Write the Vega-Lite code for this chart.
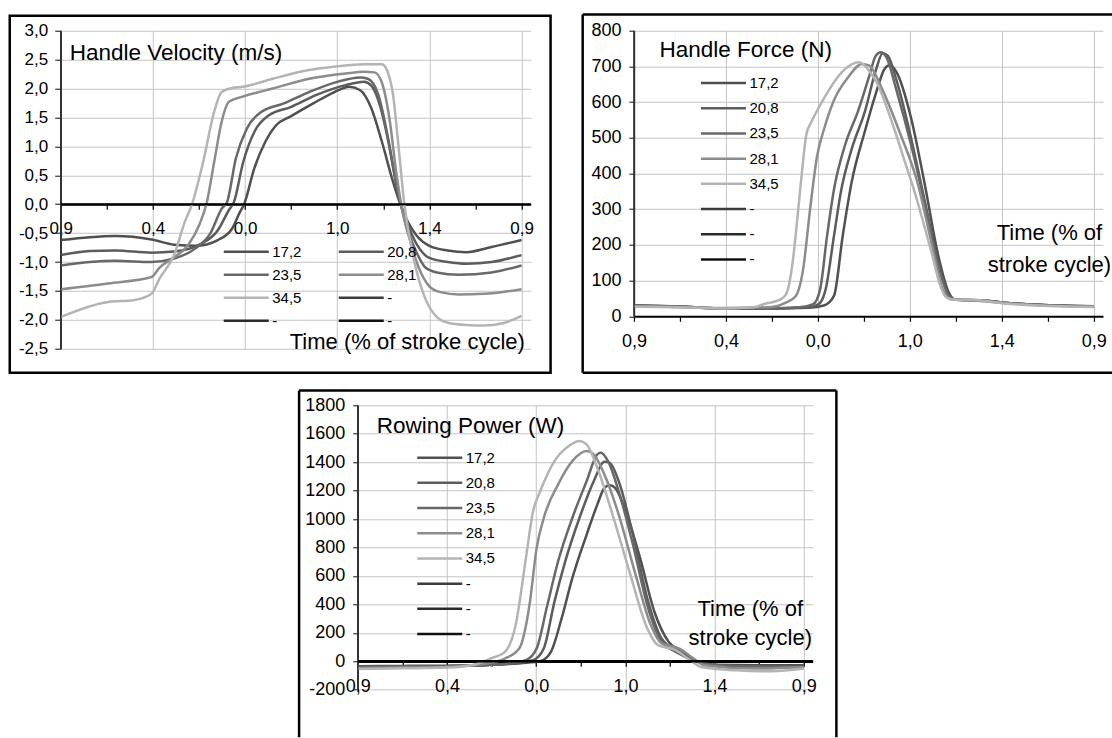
{
"$schema": "https://vega.github.io/schema/vega-lite/v6.json",
"background": "white",
"padding": {"left": 7.75, "top": 12.75, "right": 0, "bottom": 0},
"spacing": 14.5,
"config": {
  "view": {"stroke": null},
  "font": "Liberation Sans",
  "axis": {"labelFont": "Liberation Sans", "titleFont": "Liberation Sans", "labelColor": "#000", "titleColor": "#000", "titleFontWeight": "normal", "labelFlush": false, "labelOverlap": false, "labelBound": false, "gridColor": "#c4c4c4", "gridWidth": 1, "domain": true, "ticks": true, "tickWidth": 1.2, "tickSize": 5},
  "axisX": {"domainColor": "#000", "tickColor": "#000", "labelPadding": 11},
  "axisY": {"domainColor": "#333", "tickColor": "#333", "domainWidth": 1.5, "labelPadding": 7},
  "legend": {"labelFont": "Liberation Sans", "labelColor": "#000"}
},
"resolve": {"scale": {"color": "independent", "x": "independent", "y": "independent"}, "legend": {"color": "independent"}},
"datasets": {
"vel": [
{"r":"17,2","t":0,"v":-0.62},{"r":"17,2","t":6.3,"v":-0.57},{"r":"17,2","t":11.9,"v":-0.55},{"r":"17,2","t":19.7,"v":-0.61},{"r":"17,2","t":24.6,"v":-0.7},{"r":"17,2","t":29.3,"v":-0.72},{"r":"17,2","t":34.1,"v":-0.62},{"r":"17,2","t":37.2,"v":-0.42},{"r":"17,2","t":38.8,"v":-0.15},{"r":"17,2","t":39.8,"v":0.0},{"r":"17,2","t":42.0,"v":0.62},{"r":"17,2","t":44.4,"v":1.08},{"r":"17,2","t":46.8,"v":1.37},{"r":"17,2","t":49.9,"v":1.52},{"r":"17,2","t":54.7,"v":1.74},{"r":"17,2","t":59.4,"v":1.94},{"r":"17,2","t":61.8,"v":2.02},{"r":"17,2","t":62.6,"v":2.03},{"r":"17,2","t":65.0,"v":1.97},{"r":"17,2","t":67.4,"v":1.66},{"r":"17,2","t":69.7,"v":1.08},{"r":"17,2","t":72.1,"v":0.39},{"r":"17,2","t":73.7,"v":0.0},{"r":"17,2","t":75.3,"v":-0.3},{"r":"17,2","t":77.3,"v":-0.55},{"r":"17,2","t":80.0,"v":-0.72},{"r":"17,2","t":84.0,"v":-0.8},{"r":"17,2","t":88.0,"v":-0.83},{"r":"17,2","t":93.5,"v":-0.74},{"r":"17,2","t":100,"v":-0.62},
{"r":"20,8","t":0,"v":-0.88},{"r":"20,8","t":6.3,"v":-0.81},{"r":"20,8","t":11.9,"v":-0.8},{"r":"20,8","t":19.7,"v":-0.84},{"r":"20,8","t":24.6,"v":-0.82},{"r":"20,8","t":30.1,"v":-0.7},{"r":"20,8","t":34.1,"v":-0.45},{"r":"20,8","t":36.5,"v":-0.1},{"r":"20,8","t":37.6,"v":0.04},{"r":"20,8","t":39.6,"v":0.73},{"r":"20,8","t":42.0,"v":1.25},{"r":"20,8","t":45.2,"v":1.54},{"r":"20,8","t":49.9,"v":1.68},{"r":"20,8","t":55.5,"v":1.89},{"r":"20,8","t":61.8,"v":2.06},{"r":"20,8","t":65.8,"v":2.12},{"r":"20,8","t":67.4,"v":2.05},{"r":"20,8","t":69.3,"v":1.7},{"r":"20,8","t":71.3,"v":1.0},{"r":"20,8","t":72.9,"v":0.3},{"r":"20,8","t":73.8,"v":0.0},{"r":"20,8","t":75.3,"v":-0.35},{"r":"20,8","t":77.3,"v":-0.7},{"r":"20,8","t":80.0,"v":-0.93},{"r":"20,8","t":84.0,"v":-1.0},{"r":"20,8","t":88.0,"v":-1.03},{"r":"20,8","t":93.5,"v":-1.0},{"r":"20,8","t":100,"v":-0.88},
{"r":"23,5","t":0,"v":-1.06},{"r":"23,5","t":6.3,"v":-1.0},{"r":"23,5","t":11.9,"v":-0.98},{"r":"23,5","t":19.7,"v":-1.0},{"r":"23,5","t":24.6,"v":-0.94},{"r":"23,5","t":29.3,"v":-0.76},{"r":"23,5","t":32.5,"v":-0.5},{"r":"23,5","t":34.9,"v":-0.08},{"r":"23,5","t":36.1,"v":0.04},{"r":"23,5","t":38.0,"v":0.79},{"r":"23,5","t":40.4,"v":1.31},{"r":"23,5","t":43.6,"v":1.6},{"r":"23,5","t":48.3,"v":1.74},{"r":"23,5","t":53.9,"v":1.94},{"r":"23,5","t":60.2,"v":2.12},{"r":"23,5","t":65.0,"v":2.19},{"r":"23,5","t":66.6,"v":2.17},{"r":"23,5","t":68.9,"v":1.9},{"r":"23,5","t":70.9,"v":1.2},{"r":"23,5","t":72.5,"v":0.5},{"r":"23,5","t":73.7,"v":0.03},{"r":"23,5","t":75.3,"v":-0.45},{"r":"23,5","t":77.3,"v":-0.85},{"r":"23,5","t":79.2,"v":-1.1},{"r":"23,5","t":81.6,"v":-1.18},{"r":"23,5","t":86.4,"v":-1.22},{"r":"23,5","t":93.5,"v":-1.18},{"r":"23,5","t":100,"v":-1.06},
{"r":"28,1","t":0,"v":-1.47},{"r":"28,1","t":10.3,"v":-1.37},{"r":"28,1","t":19.7,"v":-1.26},{"r":"28,1","t":21.4,"v":-1.1},{"r":"28,1","t":24.6,"v":-0.92},{"r":"28,1","t":27.7,"v":-0.7},{"r":"28,1","t":30.1,"v":-0.35},{"r":"28,1","t":31.7,"v":0.03},{"r":"28,1","t":33.3,"v":0.73},{"r":"28,1","t":34.9,"v":1.42},{"r":"28,1","t":36.5,"v":1.77},{"r":"28,1","t":39.5,"v":1.86},{"r":"28,1","t":46.0,"v":2.0},{"r":"28,1","t":53.9,"v":2.17},{"r":"28,1","t":61.8,"v":2.26},{"r":"28,1","t":65.8,"v":2.29},{"r":"28,1","t":68.1,"v":2.28},{"r":"28,1","t":69.7,"v":2.1},{"r":"28,1","t":71.3,"v":1.5},{"r":"28,1","t":72.9,"v":0.5},{"r":"28,1","t":74.1,"v":-0.1},{"r":"28,1","t":75.7,"v":-0.6},{"r":"28,1","t":77.7,"v":-1.1},{"r":"28,1","t":80.0,"v":-1.42},{"r":"28,1","t":82.4,"v":-1.52},{"r":"28,1","t":86.4,"v":-1.56},{"r":"28,1","t":91.9,"v":-1.55},{"r":"28,1","t":95.9,"v":-1.52},{"r":"28,1","t":100,"v":-1.47},
{"r":"34,5","t":0,"v":-1.95},{"r":"34,5","t":10.3,"v":-1.69},{"r":"34,5","t":15.8,"v":-1.66},{"r":"34,5","t":19.7,"v":-1.55},{"r":"34,5","t":21.4,"v":-1.29},{"r":"34,5","t":24.6,"v":-0.88},{"r":"34,5","t":26.9,"v":-0.31},{"r":"34,5","t":28.5,"v":0.0},{"r":"34,5","t":30.9,"v":0.73},{"r":"34,5","t":33.3,"v":1.6},{"r":"34,5","t":34.9,"v":1.94},{"r":"34,5","t":37.2,"v":2.01},{"r":"34,5","t":39.5,"v":2.03},{"r":"34,5","t":46.0,"v":2.17},{"r":"34,5","t":53.9,"v":2.32},{"r":"34,5","t":59.6,"v":2.38},{"r":"34,5","t":65.8,"v":2.42},{"r":"34,5","t":69.7,"v":2.42},{"r":"34,5","t":70.9,"v":2.3},{"r":"34,5","t":72.1,"v":1.9},{"r":"34,5","t":73.3,"v":1.0},{"r":"34,5","t":74.5,"v":0.05},{"r":"34,5","t":76.1,"v":-0.75},{"r":"34,5","t":77.7,"v":-1.3},{"r":"34,5","t":79.2,"v":-1.65},{"r":"34,5","t":81.6,"v":-1.95},{"r":"34,5","t":84.0,"v":-2.05},{"r":"34,5","t":88.0,"v":-2.09},{"r":"34,5","t":91.9,"v":-2.1},{"r":"34,5","t":95.9,"v":-2.06},{"r":"34,5","t":100,"v":-1.93}
],
"force": [
{"r":"17,2","t":0,"v":31},{"r":"17,2","t":10,"v":27},{"r":"17,2","t":20,"v":22},{"r":"17,2","t":30,"v":22},{"r":"17,2","t":38,"v":24},{"r":"17,2","t":41.3,"v":30},{"r":"17,2","t":43.5,"v":57},{"r":"17,2","t":45.4,"v":225},{"r":"17,2","t":47.3,"v":373},{"r":"17,2","t":50.3,"v":522},{"r":"17,2","t":52.6,"v":624},{"r":"17,2","t":54.5,"v":693},{"r":"17,2","t":55.6,"v":703},{"r":"17,2","t":57.1,"v":684},{"r":"17,2","t":60.2,"v":559},{"r":"17,2","t":63.2,"v":373},{"r":"17,2","t":66.2,"v":169},{"r":"17,2","t":68.5,"v":66},{"r":"17,2","t":70,"v":46},{"r":"17,2","t":75,"v":45},{"r":"17,2","t":80.5,"v":38},{"r":"17,2","t":88,"v":32},{"r":"17,2","t":100,"v":27},
{"r":"20,8","t":0,"v":30},{"r":"20,8","t":10,"v":27},{"r":"20,8","t":20,"v":22},{"r":"20,8","t":30,"v":22},{"r":"20,8","t":38,"v":25},{"r":"20,8","t":40.2,"v":34},{"r":"20,8","t":41.7,"v":76},{"r":"20,8","t":43.5,"v":225},{"r":"20,8","t":45.1,"v":355},{"r":"20,8","t":47.3,"v":466},{"r":"20,8","t":50.3,"v":577},{"r":"20,8","t":52.6,"v":689},{"r":"20,8","t":54.1,"v":737},{"r":"20,8","t":55.2,"v":730},{"r":"20,8","t":57.1,"v":661},{"r":"20,8","t":60.2,"v":503},{"r":"20,8","t":63.2,"v":326},{"r":"20,8","t":66.2,"v":151},{"r":"20,8","t":68.5,"v":57},{"r":"20,8","t":70,"v":46},{"r":"20,8","t":75,"v":45},{"r":"20,8","t":80.5,"v":38},{"r":"20,8","t":88,"v":32},{"r":"20,8","t":100,"v":28},
{"r":"23,5","t":0,"v":28},{"r":"23,5","t":10,"v":26},{"r":"23,5","t":20,"v":22},{"r":"23,5","t":30,"v":22},{"r":"23,5","t":36,"v":25},{"r":"23,5","t":39,"v":34},{"r":"23,5","t":40.5,"v":76},{"r":"23,5","t":42,"v":225},{"r":"23,5","t":43.5,"v":355},{"r":"23,5","t":45.8,"v":475},{"r":"23,5","t":48.8,"v":577},{"r":"23,5","t":51.1,"v":670},{"r":"23,5","t":52.6,"v":730},{"r":"23,5","t":53.7,"v":740},{"r":"23,5","t":54.9,"v":726},{"r":"23,5","t":57.1,"v":633},{"r":"23,5","t":60.2,"v":484},{"r":"23,5","t":63.2,"v":317},{"r":"23,5","t":66.2,"v":141},{"r":"23,5","t":68.5,"v":57},{"r":"23,5","t":70,"v":46},{"r":"23,5","t":75,"v":45},{"r":"23,5","t":80.5,"v":38},{"r":"23,5","t":88,"v":32},{"r":"23,5","t":100,"v":28},
{"r":"28,1","t":0,"v":29},{"r":"28,1","t":10,"v":26},{"r":"28,1","t":20,"v":23},{"r":"28,1","t":30,"v":26},{"r":"28,1","t":33,"v":38},{"r":"28,1","t":35.2,"v":57},{"r":"28,1","t":36.8,"v":132},{"r":"28,1","t":38.3,"v":299},{"r":"28,1","t":39.8,"v":447},{"r":"28,1","t":41.5,"v":531},{"r":"28,1","t":43.5,"v":605},{"r":"28,1","t":46.6,"v":670},{"r":"28,1","t":49.6,"v":707},{"r":"28,1","t":51.1,"v":703},{"r":"28,1","t":54.1,"v":633},{"r":"28,1","t":57.9,"v":512},{"r":"28,1","t":61.7,"v":373},{"r":"28,1","t":64.7,"v":206},{"r":"28,1","t":66.9,"v":85},{"r":"28,1","t":69,"v":47},{"r":"28,1","t":73,"v":45},{"r":"28,1","t":80.5,"v":37},{"r":"28,1","t":88,"v":31},{"r":"28,1","t":100,"v":27},
{"r":"34,5","t":0,"v":27},{"r":"34,5","t":10,"v":25},{"r":"34,5","t":20,"v":22},{"r":"34,5","t":26,"v":25},{"r":"34,5","t":28.5,"v":35},{"r":"34,5","t":31.5,"v":45},{"r":"34,5","t":33,"v":60},{"r":"34,5","t":34.5,"v":150},{"r":"34,5","t":35.2,"v":230},{"r":"34,5","t":36.5,"v":400},{"r":"34,5","t":37.5,"v":510},{"r":"34,5","t":38.6,"v":545},{"r":"34,5","t":40,"v":580},{"r":"34,5","t":42,"v":625},{"r":"34,5","t":44,"v":665},{"r":"34,5","t":46.6,"v":700},{"r":"34,5","t":48.8,"v":712},{"r":"34,5","t":50,"v":705},{"r":"34,5","t":51.1,"v":689},{"r":"34,5","t":53,"v":650},{"r":"34,5","t":55,"v":585},{"r":"34,5","t":57,"v":510},{"r":"34,5","t":59,"v":430},{"r":"34,5","t":61,"v":350},{"r":"34,5","t":63,"v":260},{"r":"34,5","t":65,"v":165},{"r":"34,5","t":66.5,"v":90},{"r":"34,5","t":68,"v":52},{"r":"34,5","t":70,"v":46},{"r":"34,5","t":73,"v":46},{"r":"34,5","t":80.5,"v":36},{"r":"34,5","t":88,"v":30},{"r":"34,5","t":100,"v":26}
],
"power": [
{"r":"17,2","t":0,"v":-35},{"r":"17,2","t":10,"v":-33},{"r":"17,2","t":20,"v":-32},{"r":"17,2","t":30,"v":-25},{"r":"17,2","t":38,"v":-10},{"r":"17,2","t":40.9,"v":0},{"r":"17,2","t":43.3,"v":66},{"r":"17,2","t":45.7,"v":301},{"r":"17,2","t":48.1,"v":584},{"r":"17,2","t":51.3,"v":889},{"r":"17,2","t":53.7,"v":1101},{"r":"17,2","t":55.3,"v":1219},{"r":"17,2","t":56.5,"v":1238},{"r":"17,2","t":57.7,"v":1219},{"r":"17,2","t":60.1,"v":1054},{"r":"17,2","t":63.3,"v":725},{"r":"17,2","t":66.5,"v":348},{"r":"17,2","t":69.7,"v":136},{"r":"17,2","t":72.9,"v":66},{"r":"17,2","t":76.1,"v":-5},{"r":"17,2","t":80,"v":-25},{"r":"17,2","t":90,"v":-28},{"r":"17,2","t":100,"v":-28},
{"r":"20,8","t":0,"v":-40},{"r":"20,8","t":10,"v":-38},{"r":"20,8","t":20,"v":-35},{"r":"20,8","t":30,"v":-25},{"r":"20,8","t":36,"v":-10},{"r":"20,8","t":39.3,"v":7},{"r":"20,8","t":41.7,"v":89},{"r":"20,8","t":44.1,"v":419},{"r":"20,8","t":46.5,"v":701},{"r":"20,8","t":49.7,"v":1007},{"r":"20,8","t":52.9,"v":1266},{"r":"20,8","t":55.3,"v":1402},{"r":"20,8","t":56.5,"v":1395},{"r":"20,8","t":58.5,"v":1266},{"r":"20,8","t":61.7,"v":889},{"r":"20,8","t":64.9,"v":442},{"r":"20,8","t":68.1,"v":160},{"r":"20,8","t":71.3,"v":78},{"r":"20,8","t":75.3,"v":7},{"r":"20,8","t":80.8,"v":-30},{"r":"20,8","t":90,"v":-38},{"r":"20,8","t":100,"v":-40},
{"r":"23,5","t":0,"v":-40},{"r":"23,5","t":10,"v":-38},{"r":"23,5","t":20,"v":-35},{"r":"23,5","t":30,"v":-25},{"r":"23,5","t":35,"v":-10},{"r":"23,5","t":37.7,"v":7},{"r":"23,5","t":40.1,"v":89},{"r":"23,5","t":42.5,"v":395},{"r":"23,5","t":44.9,"v":701},{"r":"23,5","t":48.1,"v":1007},{"r":"23,5","t":51.3,"v":1266},{"r":"23,5","t":53.7,"v":1454},{"r":"23,5","t":54.5,"v":1466},{"r":"23,5","t":56.1,"v":1407},{"r":"23,5","t":58.5,"v":1195},{"r":"23,5","t":61.7,"v":819},{"r":"23,5","t":64.9,"v":395},{"r":"23,5","t":68.1,"v":136},{"r":"23,5","t":71.3,"v":66},{"r":"23,5","t":75.3,"v":7},{"r":"23,5","t":80.8,"v":-28},{"r":"23,5","t":90,"v":-38},{"r":"23,5","t":100,"v":-40},
{"r":"28,1","t":0,"v":-50},{"r":"28,1","t":10,"v":-45},{"r":"28,1","t":20,"v":-40},{"r":"28,1","t":28,"v":-20},{"r":"28,1","t":33,"v":19},{"r":"28,1","t":36.2,"v":89},{"r":"28,1","t":38.5,"v":395},{"r":"28,1","t":40.1,"v":795},{"r":"28,1","t":41.7,"v":1007},{"r":"28,1","t":44.9,"v":1242},{"r":"28,1","t":48.1,"v":1407},{"r":"28,1","t":51.3,"v":1478},{"r":"28,1","t":52.9,"v":1454},{"r":"28,1","t":55.3,"v":1313},{"r":"28,1","t":58.5,"v":1031},{"r":"28,1","t":62.5,"v":584},{"r":"28,1","t":65.7,"v":254},{"r":"28,1","t":68.1,"v":125},{"r":"28,1","t":72.1,"v":89},{"r":"28,1","t":75.3,"v":19},{"r":"28,1","t":77.7,"v":-28},{"r":"28,1","t":88.8,"v":-52},{"r":"28,1","t":100,"v":-40},
{"r":"34,5","t":0,"v":-55},{"r":"34,5","t":10,"v":-50},{"r":"34,5","t":20,"v":-45},{"r":"34,5","t":26,"v":-25},{"r":"34,5","t":29.8,"v":19},{"r":"34,5","t":33,"v":66},{"r":"34,5","t":35.4,"v":254},{"r":"34,5","t":37.7,"v":725},{"r":"34,5","t":39.3,"v":1054},{"r":"34,5","t":40.9,"v":1195},{"r":"34,5","t":44.1,"v":1407},{"r":"34,5","t":47.3,"v":1513},{"r":"34,5","t":49.7,"v":1548},{"r":"34,5","t":51.3,"v":1525},{"r":"34,5","t":53.7,"v":1360},{"r":"34,5","t":56.9,"v":1054},{"r":"34,5","t":60.9,"v":631},{"r":"34,5","t":64.9,"v":231},{"r":"34,5","t":67.3,"v":113},{"r":"34,5","t":71.3,"v":78},{"r":"34,5","t":74.5,"v":7},{"r":"34,5","t":76.9,"v":-40},{"r":"34,5","t":84.8,"v":-64},{"r":"34,5","t":92.8,"v":-71},{"r":"34,5","t":100,"v":-52}
]
},
"vconcat": [
{
  "hconcat": [
  {
    "width": 470, "height": 318,
    "layer": [
      {"data": {"name": "vel"}, "mark": {"type": "line", "interpolate": "monotone", "strokeWidth": 2.5},
       "encoding": {
         "x": {"field": "t", "type": "quantitative", "scale": {"domain": [0, 102], "nice": false, "zero": false},
           "axis": {"values": [0,10,20,30,40,50,60,70,80,90,100], "tickCount": 50,
             "labelExpr": "datum.value==0||datum.value==100 ? '0,9' : datum.value==20 ? '0,4' : datum.value==40 ? '0,0' : datum.value==60 ? '1,0' : datum.value==80 ? '1,4' : ''",
             "offset": -144.6, "domainWidth": 2,
             "labelFontSize": 17, "labelOverlap": false, "grid": true,
             "gridOpacity": {"condition": {"test": "datum.value % 20 != 0 || datum.value == 0", "value": 0}, "value": 1},
             "title": "Time (% of stroke cycle)", "titleX": 463.6, "titleY": 137, "titleAlign": "right", "titleBaseline": "middle", "titleFontSize": 22, "titleAngle": 0}},
         "y": {"field": "v", "type": "quantitative", "scale": {"domain": [-2.5, 3.0], "nice": false, "zero": false},
           "axis": {"values": [-2.5,-2,-1.5,-1,-0.5,0,0.5,1,1.5,2,2.5,3], "tickCount": 50,
             "labelExpr": "replace(replace(format(datum.value,'.1f'),'.',','),'\u2212','-')",
             "tickSize": 6, "labelFontSize": 17, "grid": true,
             "gridOpacity": {"condition": {"test": "datum.value == 0", "value": 0}, "value": 1}, "title": null}},
         "color": {"field": "r", "type": "nominal",
           "scale": {"domain": ["17,2","20,8","23,5","28,1","34,5","-a","-b","-c"], "range": ["#505050","#5c5c5c","#686868","#8c8c8c","#b4b4b4","#3c3c3c","#2a2a2a","#101010"]},
           "legend": {"orient": "none", "direction": "horizontal", "legendX": 176.5, "legendY": 212, "columns": 2, "title": null, "symbolType": "M-3,0H3", "symbolSize": 225, "symbolStrokeWidth": 2.5, "labelOffset": 17, "labelFontSize": 15, "columnPadding": 31, "rowPadding": 6, "padding": 0,
             "labelExpr": "substring(datum.label,0,1)=='-' ? '-' : datum.label"}}}},
      {"data": {"values": [{}]}, "mark": {"type": "rect", "filled": false, "color": "#000", "strokeWidth": 2.5, "clip": false},
       "encoding": {
         "x": {"datum": -11.07, "type": "quantitative", "scale": {"domain": [0, 102], "nice": false, "zero": false}},
         "x2": {"datum": 106.3},
         "y": {"datum": 3.26, "type": "quantitative", "scale": {"domain": [-2.5, 3.0], "nice": false, "zero": false}},
         "y2": {"datum": -2.915}}},
      {"data": {"values": [{}]}, "mark": {"type": "rule", "color": "#333", "strokeWidth": 1.5},
       "encoding": {
         "x": {"datum": 0, "type": "quantitative", "scale": {"domain": [0, 102], "nice": false, "zero": false}},
         "y": {"datum": -2.5, "type": "quantitative", "scale": {"domain": [-2.5, 3.0], "nice": false, "zero": false}},
         "y2": {"datum": 3.0}}},
      {"data": {"values": [{}]}, "mark": {"type": "rule", "color": "#000", "strokeWidth": 2},
       "encoding": {
         "x": {"datum": 0, "type": "quantitative", "scale": {"domain": [0, 102], "nice": false, "zero": false}},
         "x2": {"datum": 102},
         "y": {"datum": 0, "type": "quantitative", "scale": {"domain": [-2.5, 3.0], "nice": false, "zero": false}}}},
      {"data": {"values": [{}]}, "mark": {"type": "text", "align": "left", "baseline": "middle", "fontSize": 22.5, "font": "Liberation Sans", "color": "#000"},
       "encoding": {
         "x": {"datum": 1.95, "type": "quantitative", "scale": {"domain": [0, 102], "nice": false, "zero": false}},
         "y": {"datum": 2.607, "type": "quantitative", "scale": {"domain": [-2.5, 3.0], "nice": false, "zero": false}},
         "text": {"value": "Handle Velocity (m/s)"}}}
    ]
  },
  {
    "width": 469, "height": 285.5,
    "layer": [
      {"data": {"name": "force"}, "mark": {"type": "line", "interpolate": "monotone", "strokeWidth": 2.5},
       "encoding": {
         "x": {"field": "t", "type": "quantitative", "scale": {"domain": [0, 102], "nice": false, "zero": false},
           "axis": {"values": [0,10,20,30,40,50,60,70,80,90,100], "tickCount": 50,
             "labelExpr": "datum.value==0||datum.value==100 ? '0,9' : datum.value==20 ? '0,4' : datum.value==40 ? '0,0' : datum.value==60 ? '1,0' : datum.value==80 ? '1,4' : ''",
             "domainWidth": 2,
             "labelFontSize": 18, "labelOverlap": false, "grid": true,
             "gridOpacity": {"condition": {"test": "datum.value % 20 != 0 || datum.value == 0", "value": 0}, "value": 1},
             "title": ["Time (% of", "stroke cycle)"], "titleX": 415, "titleY": -76.5, "titleAlign": "center", "titleBaseline": "alphabetic", "titleLineHeight": 32, "titleFontSize": 22, "titleAngle": 0}},
         "y": {"field": "v", "type": "quantitative", "scale": {"domain": [0, 800], "nice": false, "zero": false},
           "axis": {"values": [0,100,200,300,400,500,600,700,800], "tickCount": 50,
             "labelPadding": 8, "labelFontSize": 18, "grid": true,
             "gridOpacity": {"condition": {"test": "datum.value == 0", "value": 0}, "value": 1}, "title": null}},
         "color": {"field": "r", "type": "nominal",
           "scale": {"domain": ["17,2","20,8","23,5","28,1","34,5","-a","-b","-c"], "range": ["#505050","#5c5c5c","#686868","#8c8c8c","#b4b4b4","#3c3c3c","#2a2a2a","#101010"]},
           "legend": {"orient": "none", "legendX": 80.5, "legendY": 43.3, "columns": 1, "title": null, "symbolType": "M-3,0H3", "symbolSize": 225, "symbolStrokeWidth": 2.5, "labelOffset": 17, "labelFontSize": 15, "rowPadding": 8.2, "padding": 0,
             "labelExpr": "substring(datum.label,0,1)=='-' ? '-' : datum.label"}}}},
      {"data": {"values": [{}]}, "mark": {"type": "rule", "color": "#333", "strokeWidth": 1.5},
       "encoding": {
         "x": {"datum": 0, "type": "quantitative", "scale": {"domain": [0, 102], "nice": false, "zero": false}},
         "y": {"datum": 0, "type": "quantitative", "scale": {"domain": [0, 800], "nice": false, "zero": false}},
         "y2": {"datum": 800}}},
      {"data": {"values": [{}]}, "mark": {"type": "rule", "color": "#000", "strokeWidth": 2.5},
       "encoding": {
         "x": {"datum": -11.15, "type": "quantitative", "scale": {"domain": [0, 102], "nice": false, "zero": false}},
         "x2": {"datum": 104.1},
         "y": {"datum": 845.7, "type": "quantitative", "scale": {"domain": [0, 800], "nice": false, "zero": false}}}},
      {"data": {"values": [{}]}, "mark": {"type": "rule", "color": "#000", "strokeWidth": 2.5},
       "encoding": {
         "x": {"datum": -11.15, "type": "quantitative", "scale": {"domain": [0, 102], "nice": false, "zero": false}},
         "x2": {"datum": 104.1},
         "y": {"datum": -158.3, "type": "quantitative", "scale": {"domain": [0, 800], "nice": false, "zero": false}}}},
      {"data": {"values": [{}]}, "mark": {"type": "rule", "color": "#000", "strokeWidth": 2.5},
       "encoding": {
         "x": {"datum": -11.15, "type": "quantitative", "scale": {"domain": [0, 102], "nice": false, "zero": false}},
         "y": {"datum": -158.3, "type": "quantitative", "scale": {"domain": [0, 800], "nice": false, "zero": false}},
         "y2": {"datum": 845.7}}},
      {"data": {"values": [{}]}, "mark": {"type": "text", "align": "left", "baseline": "middle", "fontSize": 22.5, "font": "Liberation Sans", "color": "#000"},
       "encoding": {
         "x": {"datum": 5.54, "type": "quantitative", "scale": {"domain": [0, 102], "nice": false, "zero": false}},
         "y": {"datum": 746.8, "type": "quantitative", "scale": {"domain": [0, 800], "nice": false, "zero": false}},
         "text": {"value": "Handle Force (N)"}}}
    ]
  }
  ],
  "spacing": 28.2,
  "resolve": {"scale": {"color": "independent", "x": "independent", "y": "independent"}, "legend": {"color": "independent"}}
},
{
  "hconcat": [
  {
    "width": 237, "height": 10,
    "view": {"fill": "white", "stroke": null},
    "data": {"values": [{}]},
    "mark": {"type": "point", "opacity": 0},
    "encoding": {}
  },
  {
  "width": 455, "height": 284.4,
  "layer": [
    {"data": {"name": "power"}, "mark": {"type": "line", "interpolate": "monotone", "strokeWidth": 2.5},
     "encoding": {
       "x": {"field": "t", "type": "quantitative", "scale": {"domain": [0, 102], "nice": false, "zero": false},
         "axis": {"values": [0,10,20,30,40,50,60,70,80,90,100], "tickCount": 50,
           "labelExpr": "datum.value==0||datum.value==100 ? '0,9' : datum.value==20 ? '0,4' : datum.value==40 ? '0,0' : datum.value==60 ? '1,0' : datum.value==80 ? '1,4' : ''",
           "offset": -28.4, "domainWidth": 2.5,
           "labelFontSize": 18, "labelOverlap": false, "grid": true,
           "gridOpacity": {"condition": {"test": "datum.value % 20 != 0 || datum.value == 0", "value": 0}, "value": 1},
           "title": ["Time (% of", "stroke cycle)"], "titleX": 392, "titleY": -46, "titleAlign": "center", "titleBaseline": "alphabetic", "titleLineHeight": 29, "titleFontSize": 22, "titleAngle": 0}},
       "y": {"field": "v", "type": "quantitative", "scale": {"domain": [-200, 1800], "nice": false, "zero": false},
         "axis": {"values": [-200,0,200,400,600,800,1000,1200,1400,1600,1800], "tickCount": 50,
           "labelPadding": 8, "labelFontSize": 18, "labelOverlap": false, "grid": true, "title": null,
           "gridOpacity": {"condition": {"test": "datum.value == 0", "value": 0}, "value": 1},
           "labelExpr": "replace(format(datum.value,'d'),'\u2212','-')"}},
       "color": {"field": "r", "type": "nominal",
         "scale": {"domain": ["17,2","20,8","23,5","28,1","34,5","-a","-b","-c"], "range": ["#505050","#5c5c5c","#686868","#8c8c8c","#b4b4b4","#3c3c3c","#2a2a2a","#101010"]},
         "legend": {"orient": "none", "legendX": 73, "legendY": 43.4, "columns": 1, "title": null, "symbolType": "M-3,0H3", "symbolSize": 225, "symbolStrokeWidth": 2.5, "labelOffset": 17, "labelFontSize": 15, "rowPadding": 8.2, "padding": 0,
           "labelExpr": "substring(datum.label,0,1)=='-' ? '-' : datum.label"}}}},
    {"data": {"values": [{}]}, "mark": {"type": "rule", "color": "#333", "strokeWidth": 1.5},
     "encoding": {
       "x": {"datum": 0, "type": "quantitative", "scale": {"domain": [0, 102], "nice": false, "zero": false}},
       "y": {"datum": -200, "type": "quantitative", "scale": {"domain": [-200, 1800], "nice": false, "zero": false}},
       "y2": {"datum": 1800}}},
    {"data": {"values": [{}]}, "mark": {"type": "rule", "color": "#000", "strokeWidth": 2.5},
     "encoding": {
       "x": {"datum": -13.15, "type": "quantitative", "scale": {"domain": [0, 102], "nice": false, "zero": false}},
       "x2": {"datum": 107.3},
       "y": {"datum": 1903.4, "type": "quantitative", "scale": {"domain": [-200, 1800], "nice": false, "zero": false}}}},
    {"data": {"values": [{}]}, "mark": {"type": "rule", "color": "#000", "strokeWidth": 2.5},
     "encoding": {
       "x": {"datum": -13.15, "type": "quantitative", "scale": {"domain": [0, 102], "nice": false, "zero": false}},
       "y": {"datum": 1903.4, "type": "quantitative", "scale": {"domain": [-200, 1800], "nice": false, "zero": false}},
       "y2": {"datum": -535}}},
    {"data": {"values": [{}]}, "mark": {"type": "rule", "color": "#000", "strokeWidth": 2.5},
     "encoding": {
       "x": {"datum": 107.3, "type": "quantitative", "scale": {"domain": [0, 102], "nice": false, "zero": false}},
       "y": {"datum": 1903.4, "type": "quantitative", "scale": {"domain": [-200, 1800], "nice": false, "zero": false}},
       "y2": {"datum": -535}}},
    {"data": {"values": [{}]}, "mark": {"type": "rule", "color": "#000", "strokeWidth": 2.5},
     "encoding": {
       "x": {"datum": 0, "type": "quantitative", "scale": {"domain": [0, 102], "nice": false, "zero": false}},
       "x2": {"datum": 102},
       "y": {"datum": 0, "type": "quantitative", "scale": {"domain": [-200, 1800], "nice": false, "zero": false}}}},
    {"data": {"values": [{}]}, "mark": {"type": "text", "align": "left", "baseline": "middle", "fontSize": 22.5, "font": "Liberation Sans", "color": "#000"},
     "encoding": {
       "x": {"datum": 4.26, "type": "quantitative", "scale": {"domain": [0, 102], "nice": false, "zero": false}},
       "y": {"datum": 1652, "type": "quantitative", "scale": {"domain": [-200, 1800], "nice": false, "zero": false}},
       "text": {"value": "Rowing Power (W)"}}}
  ]
  }
  ],
  "spacing": 0,
  "resolve": {"scale": {"color": "independent", "x": "independent", "y": "independent"}, "legend": {"color": "independent"}}
}
]
}
